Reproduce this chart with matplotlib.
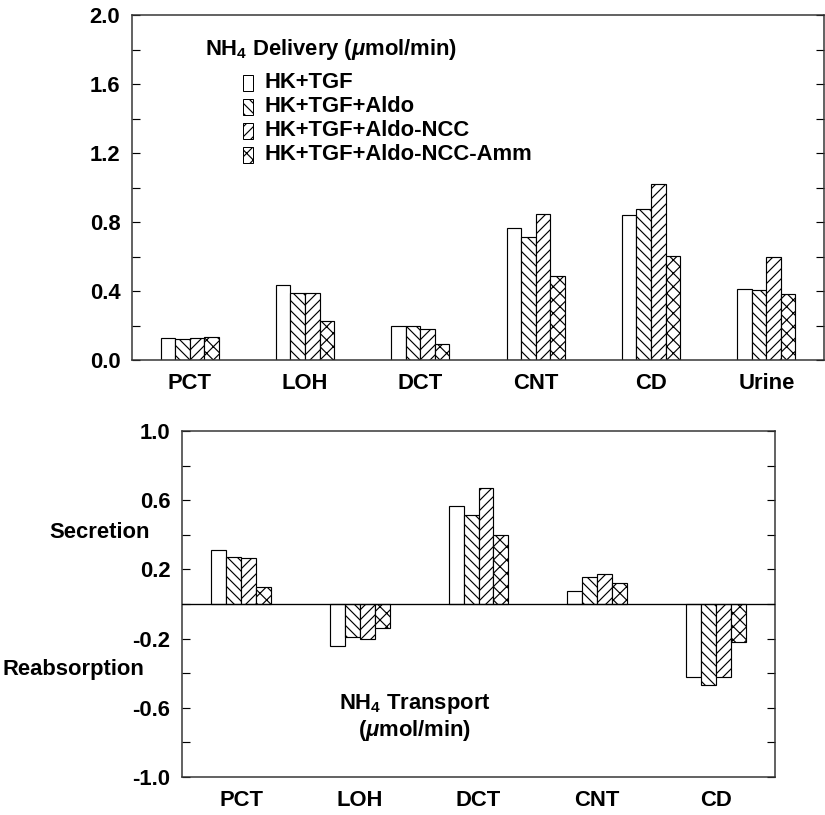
#!/usr/bin/env python3
"""NH4 delivery and transport along the nephron, two stacked bar panels."""

import matplotlib
matplotlib.use("Agg")
import matplotlib.pyplot as plt
from matplotlib.patches import Rectangle
from matplotlib.ticker import FixedLocator, FuncFormatter

# ----------------------- data -----------------------------
SERIES       = ["HK+TGF", "HK+TGF+Aldo", "HK+TGF+Aldo-NCC", "HK+TGF+Aldo-NCC-Amm"]
DELIV_CATS   = ["PCT", "LOH", "DCT", "CNT", "CD", "Urine"]
TRANS_CATS   = ["PCT", "LOH", "DCT", "CNT", "CD"]

deliv_hktgf  = [0.128, 0.437, 0.200, 0.763, 0.839, 0.410]
deliv_aldo   = [0.123, 0.390, 0.200, 0.715, 0.877, 0.404]
deliv_ncc    = [0.125, 0.388, 0.180, 0.846, 1.020, 0.595]
deliv_amm    = [0.131, 0.224, 0.090, 0.487, 0.603, 0.381]

trans_hktgf  = [0.314, -0.240, 0.566, 0.077, -0.424]
trans_aldo   = [0.274, -0.190, 0.514, 0.158, -0.470]
trans_ncc    = [0.268, -0.205, 0.669, 0.173, -0.422]
trans_amm    = [0.098, -0.137, 0.399, 0.121, -0.221]
# ----------------------------------------------------------

W, H, DPI = 825, 815, 120
HATCHES   = ["", "\\" * 4, "/" * 4, "x" * 3]
BAR_W     = 0.126
FS        = 13.2

plt.rcParams.update({
    "font.family": ["Liberation Sans", "DejaVu Sans"],
    "font.weight": "bold",
    "font.size": FS,
    "mathtext.fontset": "custom",
    "mathtext.rm": "Liberation Sans:bold",
    "mathtext.it": "Liberation Sans:italic:bold",
    "mathtext.bf": "Liberation Sans:bold",
    "hatch.linewidth": 0.7,
    "axes.linewidth": 0.9,
})


def fbox(left, top, right, bottom):
    """pixel box -> figure fraction rect"""
    return [left / W, 1 - bottom / H, (right - left) / W, (bottom - top) / H]


def px(x, y):
    return x / W, 1 - y / H


def draw_groups(ax, series_vals):
    n = len(series_vals)
    for j, vals in enumerate(series_vals):
        xs = [i + (j - (n - 1) / 2) * BAR_W for i in range(len(vals))]
        ax.bar(xs, vals, width=BAR_W, facecolor="white", edgecolor="black",
               linewidth=0.7, hatch=HATCHES[j], zorder=2)


def style_axes(ax, cats, ylim, step, labelled):
    ax.set_xlim(-0.5, len(cats) - 0.5)
    ax.set_ylim(*ylim)
    ax.set_xticks(range(len(cats)))
    ax.set_xticklabels(cats, fontweight="bold")
    ax.tick_params(axis="x", length=0, pad=8, labelsize=FS)
    n = int(round((ylim[1] - ylim[0]) / step))
    ticks = [round(ylim[0] + k * step, 2) for k in range(n + 1)]
    ax.yaxis.set_major_locator(FixedLocator(ticks))
    ax.yaxis.set_major_formatter(FuncFormatter(
        lambda v, _: f"{v:.1f}" if any(abs(v - l) < 1e-6 for l in labelled) else ""))
    ax.tick_params(axis="y", direction="in", length=5, width=0.7,
                   right=True, pad=7, labelsize=FS)
    for s in ax.spines.values():
        s.set_color("#333333")


fig = plt.figure(figsize=(W / DPI, H / DPI), dpi=DPI)

# ---- top panel: delivery
ax1 = fig.add_axes(fbox(132, 15, 824, 360))
draw_groups(ax1, [deliv_hktgf, deliv_aldo, deliv_ncc, deliv_amm])
style_axes(ax1, DELIV_CATS, (0, 2.0), 0.2, [0.0, 0.4, 0.8, 1.2, 1.6, 2.0])

fig.text(*px(205, 50), r"NH$_4$ Delivery ($\mu$mol/min)", ha="left", va="center",
         fontsize=FS, fontweight="bold")
for k, name in enumerate(SERIES):
    yc = 83 + k * 24
    bx, by = px(243, yc + 8)
    fig.add_artist(Rectangle((bx, by), 10 / W, 16 / H, transform=fig.transFigure,
                             facecolor="white", edgecolor="black", linewidth=0.6,
                             hatch=HATCHES[k]))
    fig.text(*px(265, yc), name, ha="left", va="center", fontsize=FS, fontweight="bold")

# ---- bottom panel: transport
ax2 = fig.add_axes(fbox(182, 431, 775, 777))
draw_groups(ax2, [trans_hktgf, trans_aldo, trans_ncc, trans_amm])
ax2.axhline(0, color="black", linewidth=0.8, zorder=3)
style_axes(ax2, TRANS_CATS, (-1.0, 1.0), 0.2, [-1.0, -0.6, -0.2, 0.2, 0.6, 1.0])

fig.text(*px(100, 533), "Secretion", ha="center", va="center", fontsize=FS, fontweight="bold")
fig.text(*px(73, 670), "Reabsorption", ha="center", va="center", fontsize=FS, fontweight="bold")
ax2.text(0.393, 0.172, "NH$_4$ Transport\n($\\mu$mol/min)", transform=ax2.transAxes,
         ha="center", va="center", fontsize=FS, fontweight="bold", linespacing=1.1)

fig.savefig("out.png", dpi=DPI)
